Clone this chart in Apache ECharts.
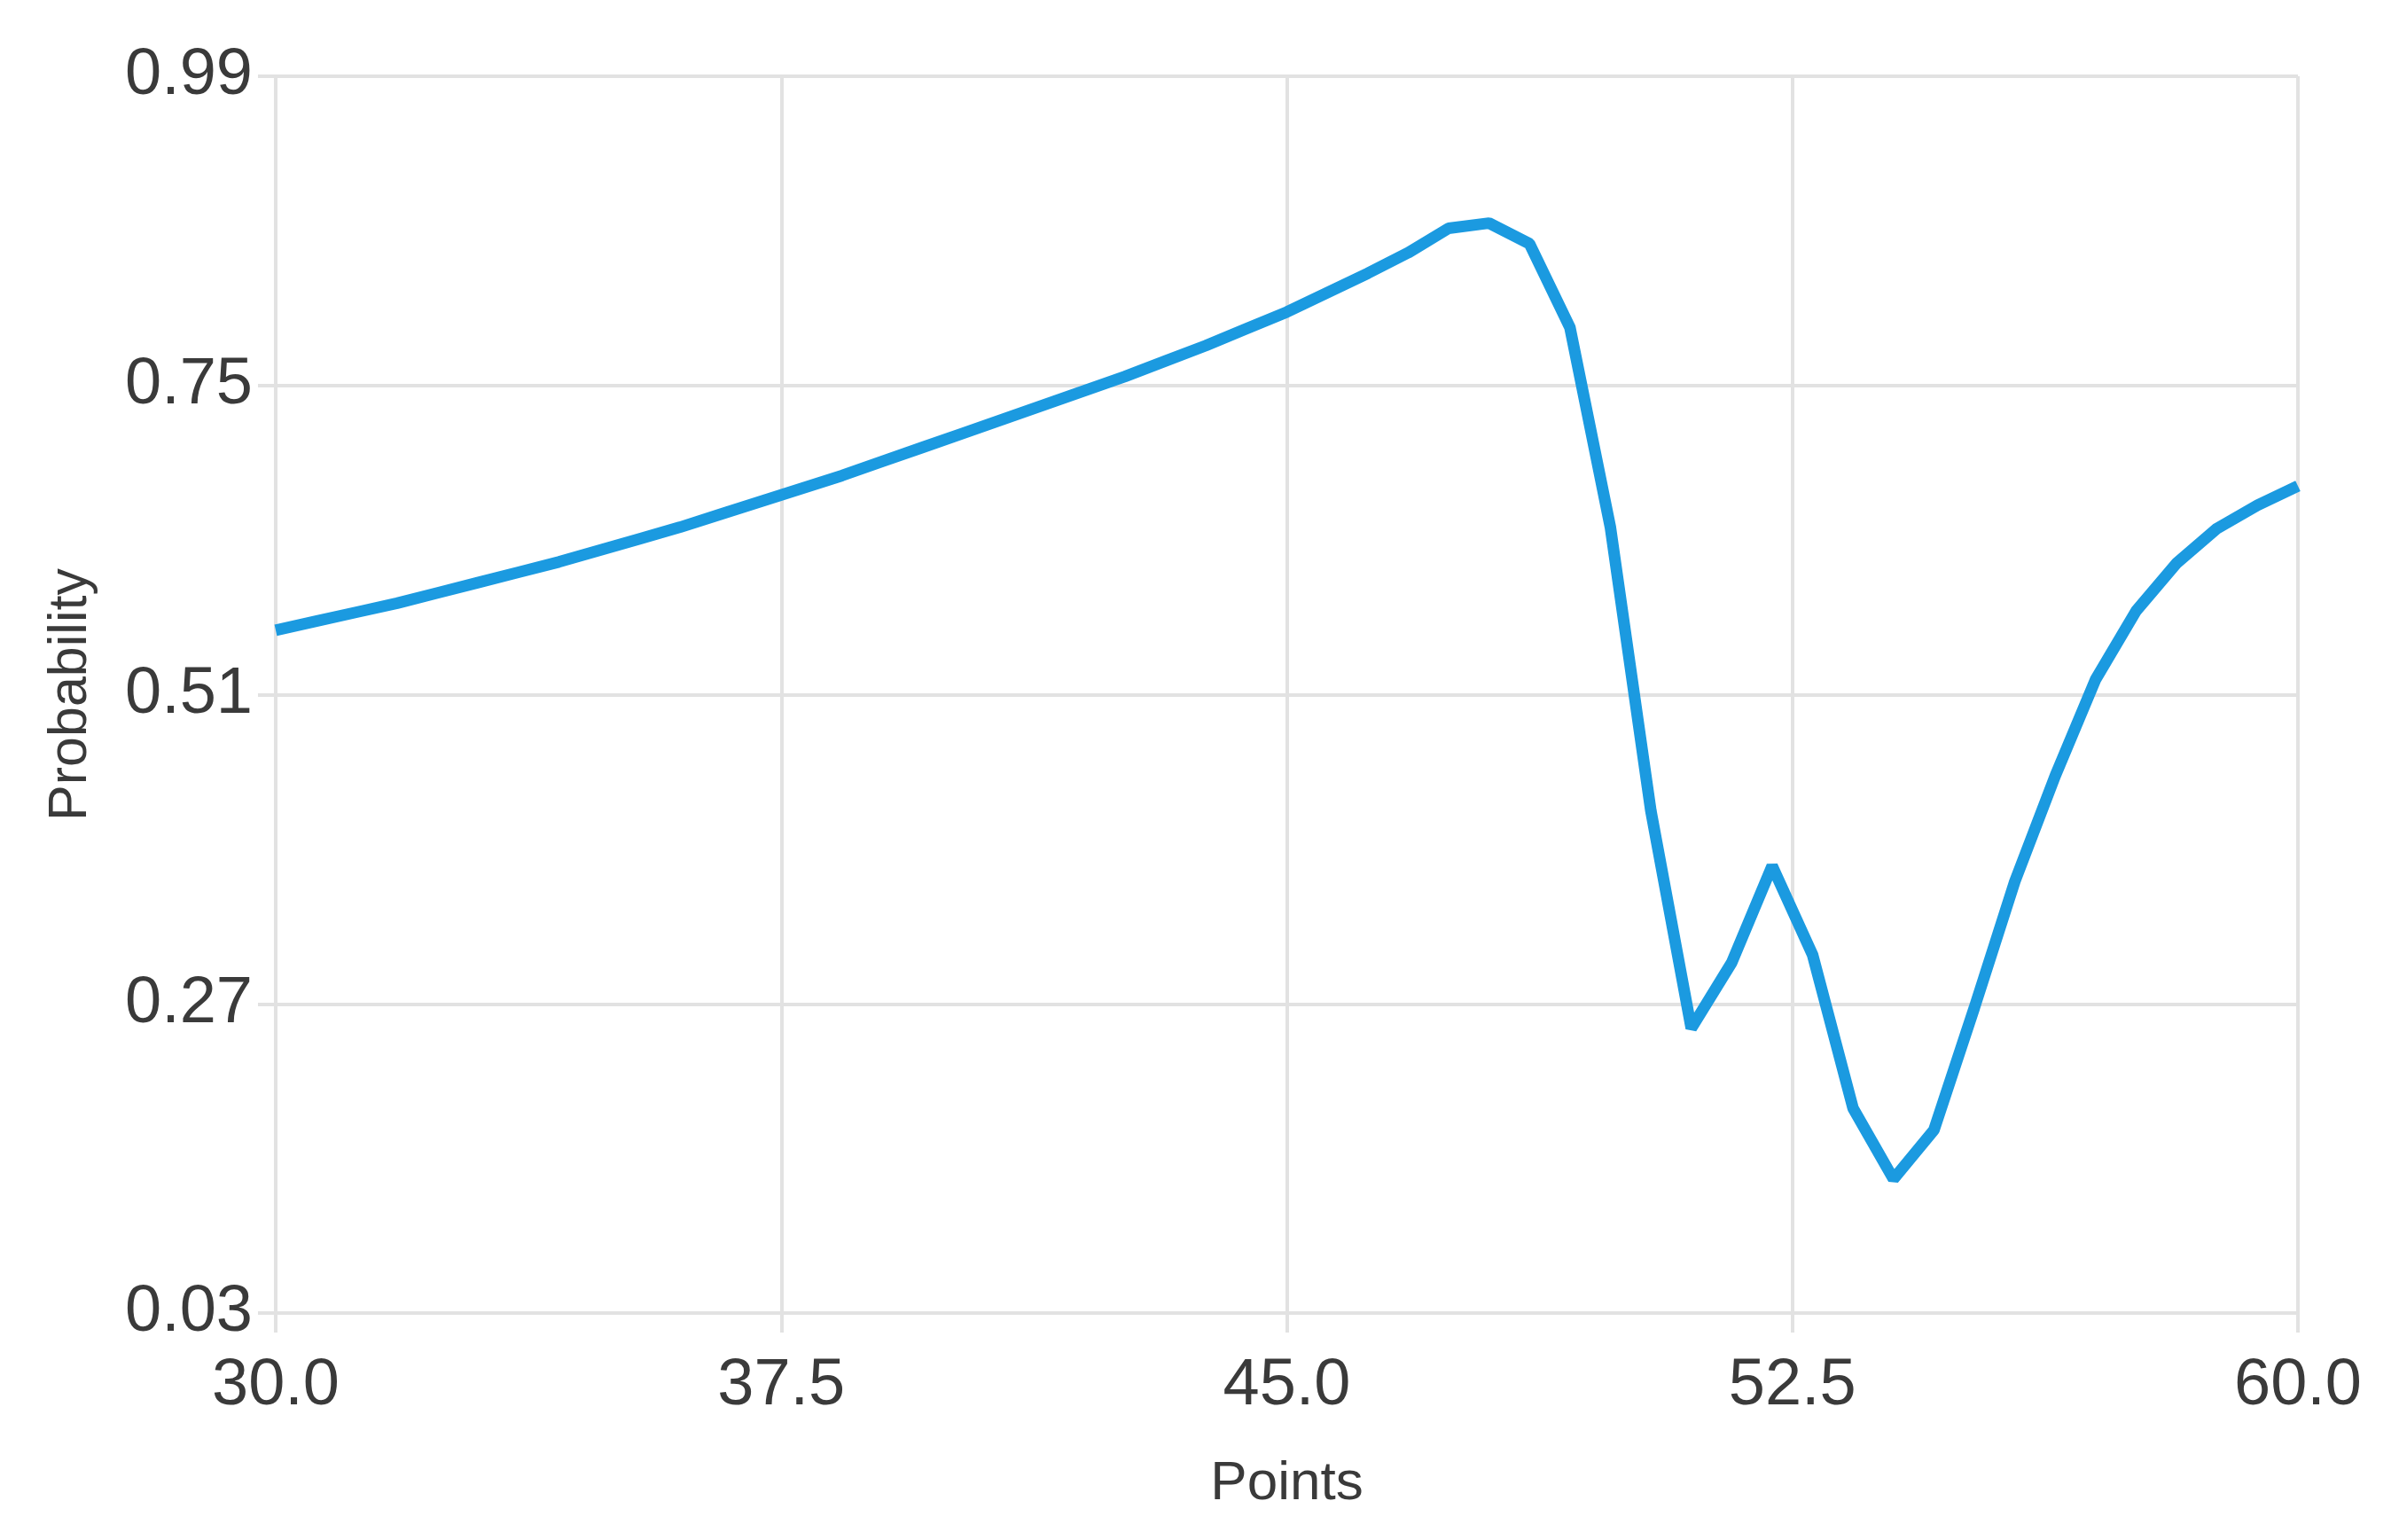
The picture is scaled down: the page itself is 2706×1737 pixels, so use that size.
<!DOCTYPE html>
<html>
<head>
<meta charset="utf-8">
<script src="https://cdn.jsdelivr.net/npm/echarts@6/dist/echarts.min.js"></script>
<style>
  html, body { margin: 0; padding: 0; background: #fff; }
  #chart { width: 2706px; height: 1737px; }
</style>
</head>
<body>
<div id="chart"></div>
<script>
// x positions (Points)
const points = [
  30.0, 30.6, 31.2, 31.8, 32.4, 33.0, 33.6, 34.2, 34.8, 35.4,
  36.0, 36.6, 37.2, 37.8, 38.4, 39.0, 39.6, 40.2, 40.8, 41.4,
  42.0, 42.6, 43.2, 43.8, 44.4, 45.0, 45.6, 46.2, 46.8, 47.4,
  48.0, 48.6, 49.2, 49.8, 50.4, 51.0, 51.6, 52.2, 52.8, 53.4,
  54.0, 54.6, 55.2, 55.8, 56.4, 57.0, 57.6, 58.2, 58.8, 59.4,
  60.0
];
// probability values
const probability = [
  0.560, 0.567, 0.574, 0.581, 0.589, 0.597, 0.605, 0.613, 0.622, 0.631,
  0.640, 0.650, 0.660, 0.670, 0.680, 0.691, 0.702, 0.713, 0.724, 0.735,
  0.746, 0.757, 0.769, 0.781, 0.794, 0.807, 0.822, 0.837, 0.853, 0.872,
  0.876, 0.860, 0.795, 0.640, 0.420, 0.251, 0.302, 0.377, 0.308, 0.189,
  0.134, 0.172, 0.267, 0.365, 0.447, 0.522, 0.575, 0.612, 0.639, 0.657,
  0.672
];
const xTicks = [30, 37.5, 45, 52.5, 60];
const yTicks = [0.03, 0.27, 0.51, 0.75, 0.99];

const gridColor = '#e2e2e2';
const textColor = '#3a3a3a';
const font = '"Liberation Sans", Arial, sans-serif';

const chart = echarts.init(document.getElementById('chart'));
chart.setOption({
  animation: false,
  backgroundColor: '#ffffff',
  grid: { left: 311, right: 114, top: 86, bottom: 256 },
  xAxis: {
    type: 'value',
    min: 30,
    max: 60,
    name: 'Points',
    nameLocation: 'middle',
    nameGap: 162,
    nameTextStyle: { fontSize: 62, color: textColor, fontFamily: font },
    axisLine: { show: true, lineStyle: { color: gridColor, width: 4 } },
    axisTick: { show: true, length: 22, customValues: xTicks, lineStyle: { color: gridColor, width: 4 } },
    axisLabel: {
      customValues: xTicks,
      margin: 46,
      fontSize: 74,
      color: textColor,
      fontFamily: font,
      formatter: v => v.toFixed(1)
    },
    splitLine: { show: true, lineStyle: { color: gridColor, width: 4 } }
  },
  yAxis: {
    type: 'value',
    min: 0.03,
    max: 0.99,
    name: 'Probability',
    nameLocation: 'middle',
    nameGap: 200,
    nameTextStyle: { fontSize: 61, color: textColor, fontFamily: font },
    axisLine: { show: true, lineStyle: { color: gridColor, width: 4 } },
    axisTick: { show: true, length: 20, customValues: yTicks, lineStyle: { color: gridColor, width: 4 } },
    axisLabel: {
      customValues: yTicks,
      margin: 26,
      fontSize: 74,
      color: textColor,
      fontFamily: font,
      formatter: v => v.toFixed(2)
    },
    splitLine: { show: true, lineStyle: { color: gridColor, width: 4 } }
  },
  series: [{
    type: 'line',
    data: points.map((x, i) => [x, probability[i]]),
    showSymbol: false,
    smooth: false,
    lineStyle: { color: '#1b9ae0', width: 13 },
    itemStyle: { color: '#1b9ae0' }
  }]
});
</script>
</body>
</html>
